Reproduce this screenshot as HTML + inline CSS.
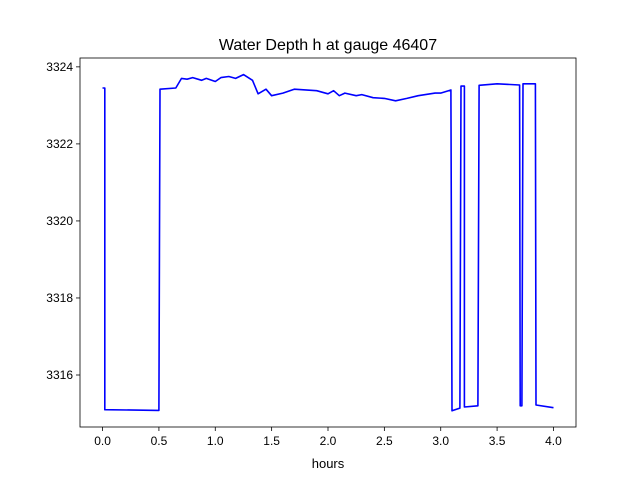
<!DOCTYPE html>
<html><head><meta charset="utf-8"><style>
body{margin:0;background:#fff}
svg{display:block;font-family:"Liberation Sans","DejaVu Sans",sans-serif}
</style></head><body>
<svg id="chart" width="640" height="480" viewBox="0 0 640 480">
<rect x="0" y="0" width="640" height="480" fill="#fff"/>
<text x="328" y="50" font-size="16" text-anchor="middle">Water Depth h at gauge 46407</text>
<g id="axes"></g>
<text x="328" y="468" font-size="13" text-anchor="middle">hours</text>
</svg>
<script>
const hours=[0,0.02,0.02,0.5,0.51,0.65,0.7,0.75,0.8,0.88,0.92,1.0,1.05,1.12,1.18,1.25,1.33,1.38,1.45,1.5,1.6,1.7,1.9,2.0,2.05,2.1,2.15,2.25,2.3,2.4,2.5,2.6,2.7,2.8,2.95,3.0,3.09,3.1,3.17,3.18,3.21,3.21,3.33,3.34,3.5,3.7,3.705,3.72,3.73,3.84,3.845,4.0];
const depth=[3323.45,3323.45,3315.1,3315.08,3323.42,3323.45,3323.7,3323.68,3323.72,3323.65,3323.7,3323.62,3323.72,3323.75,3323.7,3323.8,3323.65,3323.3,3323.42,3323.25,3323.32,3323.42,3323.38,3323.3,3323.38,3323.25,3323.32,3323.25,3323.28,3323.2,3323.18,3323.12,3323.18,3323.25,3323.32,3323.32,3323.4,3315.07,3315.14,3323.5,3323.5,3315.17,3315.2,3323.52,3323.56,3323.53,3315.2,3315.2,3323.56,3323.56,3315.22,3315.15];
const xTicks=[0.0,0.5,1.0,1.5,2.0,2.5,3.0,3.5,4.0];
const yTicks=[3316,3318,3320,3322,3324];
const L=80,R=576,T=58,B=427;
const xMin=-0.2,xMax=4.2,yMin=3314.65,yMax=3324.23;
const sx=v=>L+(v-xMin)/(xMax-xMin)*(R-L);
const sy=v=>B-(v-yMin)/(yMax-yMin)*(B-T);
const NS="http://www.w3.org/2000/svg";
const g=document.getElementById('axes');
function mk(t,a){const e=document.createElementNS(NS,t);for(const k in a)e.setAttribute(k,a[k]);g.appendChild(e);return e;}
const pts=hours.map((h,i)=>sx(h).toFixed(1)+','+sy(depth[i]).toFixed(1)).join(' ');
const line=mk('polyline',{points:pts,fill:'none',stroke:'#0000ff','stroke-width':1.6,'stroke-linejoin':'round'});


xTicks.forEach(v=>{
  const x=sx(v);
  const tk=mk('line',{x1:x,y1:B,x2:x,y2:B+4,stroke:'#000','stroke-width':0.8});
  
  
  const t=mk('text',{x:x,y:B+18,'font-size':12,'text-anchor':'middle'});
  t.textContent=v.toFixed(1);
  
  
});
yTicks.forEach(v=>{
  const y=sy(v);
  const tk=mk('line',{x1:L-4,y1:y,x2:L,y2:y,stroke:'#000','stroke-width':0.8});
  
  
  const t=mk('text',{x:L-7,y:y+4,'font-size':12,'text-anchor':'end'});
  t.textContent=v;
  
  
});
const fr=mk('rect',{x:L,y:T,width:R-L,height:B-T,fill:'none',stroke:'#000','stroke-width':0.8});


</script>
</body></html>
